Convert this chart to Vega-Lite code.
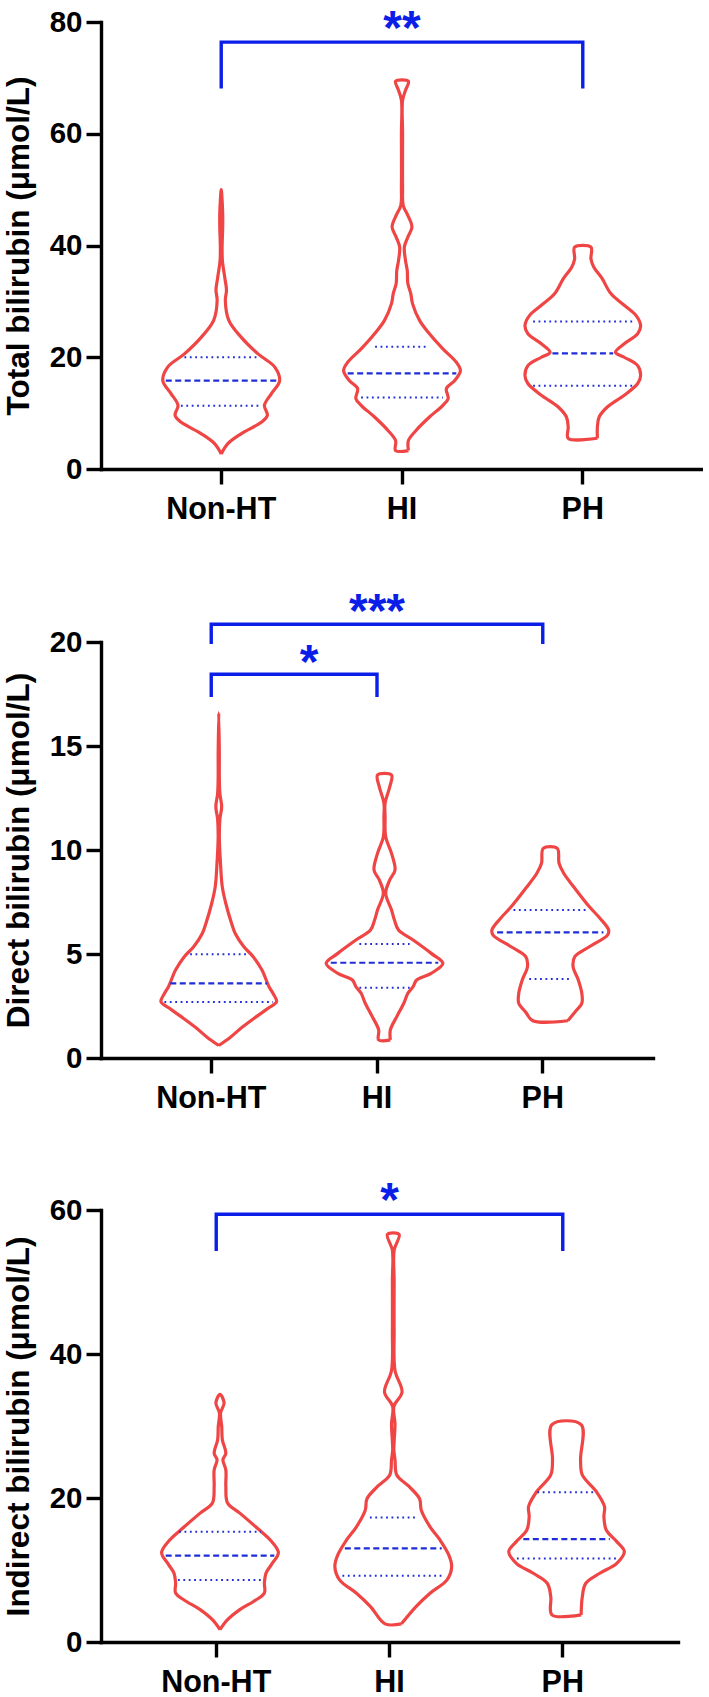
{
  "$schema": "https://vega.github.io/schema/vega-lite/v6.json",
  "background": "white",
  "padding": {"left": 3, "top": 5, "right": 0, "bottom": 0},
  "config": {
    "view": {"stroke": null},
    "font": "Liberation Sans",
    "axis": {
      "grid": false,
      "domainColor": "black", "domainWidth": 3.4, "domainCap": "square",
      "tickColor": "black", "tickWidth": 3.4, "tickSize": 15,
      "labelFont": "Liberation Sans", "labelFontWeight": "bold", "labelColor": "black",
      "titleFont": "Liberation Sans", "titleFontWeight": "bold", "titleColor": "black"
    },
    "axisY": {"labelFontSize": 29.5, "labelPadding": 4, "titleFontSize": 31.5, "titlePadding": 14},
    "axisX": {"labelFontSize": 30.5, "labelPadding": 10, "labelAngle": 0}
  },
  "datasets": {
    "v1": [
      {"g":"Non-HT","v":2.7,"w":0},{"g":"Non-HT","v":4.5,"w":0.11},{"g":"Non-HT","v":6.3,"w":0.34},{"g":"Non-HT","v":8.4,"w":0.69},{"g":"Non-HT","v":9.6,"w":0.79},{"g":"Non-HT","v":11.4,"w":0.74},{"g":"Non-HT","v":13.5,"w":0.86},{"g":"Non-HT","v":15.8,"w":1},{"g":"Non-HT","v":18.2,"w":0.92},{"g":"Non-HT","v":20.6,"w":0.63},{"g":"Non-HT","v":23.6,"w":0.34},{"g":"Non-HT","v":26.6,"w":0.13},{"g":"Non-HT","v":30.2,"w":0.07},{"g":"Non-HT","v":32,"w":0.09},{"g":"Non-HT","v":34.3,"w":0.06},{"g":"Non-HT","v":37.3,"w":0.02},{"g":"Non-HT","v":39.7,"w":0.015},{"g":"Non-HT","v":43.3,"w":0.025},{"g":"Non-HT","v":45.7,"w":0.025},{"g":"Non-HT","v":48.1,"w":0.015},{"g":"Non-HT","v":50,"w":0},
      {"g":"Non-HT","v":48.1,"w":-0.015},{"g":"Non-HT","v":45.7,"w":-0.025},{"g":"Non-HT","v":43.3,"w":-0.025},{"g":"Non-HT","v":39.7,"w":-0.015},{"g":"Non-HT","v":37.3,"w":-0.02},{"g":"Non-HT","v":34.3,"w":-0.06},{"g":"Non-HT","v":32,"w":-0.09},{"g":"Non-HT","v":30.2,"w":-0.07},{"g":"Non-HT","v":26.6,"w":-0.13},{"g":"Non-HT","v":23.6,"w":-0.34},{"g":"Non-HT","v":20.6,"w":-0.63},{"g":"Non-HT","v":18.2,"w":-0.92},{"g":"Non-HT","v":15.8,"w":-1},{"g":"Non-HT","v":13.5,"w":-0.86},{"g":"Non-HT","v":11.4,"w":-0.74},{"g":"Non-HT","v":9.6,"w":-0.79},{"g":"Non-HT","v":8.4,"w":-0.69},{"g":"Non-HT","v":6.3,"w":-0.34},{"g":"Non-HT","v":4.5,"w":-0.11},{"g":"Non-HT","v":2.7,"w":0},
      {"g":"HI","v":3.3,"w":0.11},{"g":"HI","v":5.1,"w":0.11},{"g":"HI","v":6.9,"w":0.24},{"g":"HI","v":9.3,"w":0.47},{"g":"HI","v":11.4,"w":0.7},{"g":"HI","v":12.6,"w":0.79},{"g":"HI","v":14.4,"w":0.76},{"g":"HI","v":15.8,"w":0.9},{"g":"HI","v":17.6,"w":1},{"g":"HI","v":19.1,"w":0.93},{"g":"HI","v":21.5,"w":0.7},{"g":"HI","v":24.2,"w":0.47},{"g":"HI","v":26.6,"w":0.3},{"g":"HI","v":29.6,"w":0.18},{"g":"HI","v":31.4,"w":0.15},{"g":"HI","v":33.2,"w":0.1},{"g":"HI","v":35.5,"w":0.09},{"g":"HI","v":37.3,"w":0.06},{"g":"HI","v":39.7,"w":0.04},{"g":"HI","v":41.5,"w":0.1},{"g":"HI","v":43.3,"w":0.17},{"g":"HI","v":45.4,"w":0.1},{"g":"HI","v":47.2,"w":0.02},{"g":"HI","v":50.5,"w":0.01},{"g":"HI","v":60,"w":0.01},{"g":"HI","v":66,"w":0.01},{"g":"HI","v":67.8,"w":0.06},{"g":"HI","v":69.4,"w":0.11},
      {"g":"HI","v":69.4,"w":-0.11},{"g":"HI","v":67.8,"w":-0.06},{"g":"HI","v":66,"w":-0.01},{"g":"HI","v":60,"w":-0.01},{"g":"HI","v":50.5,"w":-0.01},{"g":"HI","v":47.2,"w":-0.02},{"g":"HI","v":45.4,"w":-0.1},{"g":"HI","v":43.3,"w":-0.17},{"g":"HI","v":41.5,"w":-0.1},{"g":"HI","v":39.7,"w":-0.04},{"g":"HI","v":37.3,"w":-0.06},{"g":"HI","v":35.5,"w":-0.09},{"g":"HI","v":33.2,"w":-0.1},{"g":"HI","v":31.4,"w":-0.15},{"g":"HI","v":29.6,"w":-0.18},{"g":"HI","v":26.6,"w":-0.3},{"g":"HI","v":24.2,"w":-0.47},{"g":"HI","v":21.5,"w":-0.7},{"g":"HI","v":19.1,"w":-0.93},{"g":"HI","v":17.6,"w":-1},{"g":"HI","v":15.8,"w":-0.9},{"g":"HI","v":14.4,"w":-0.76},{"g":"HI","v":12.6,"w":-0.79},{"g":"HI","v":11.4,"w":-0.7},{"g":"HI","v":9.3,"w":-0.47},{"g":"HI","v":6.9,"w":-0.24},{"g":"HI","v":5.1,"w":-0.11},{"g":"HI","v":3.3,"w":-0.11},{"g":"HI","v":3.3,"w":0.11},
      {"g":"PH","v":5.5,"w":0.25},{"g":"PH","v":7.5,"w":0.25},{"g":"PH","v":9.3,"w":0.28},{"g":"PH","v":11.1,"w":0.42},{"g":"PH","v":13.2,"w":0.71},{"g":"PH","v":15.3,"w":0.94},{"g":"PH","v":16.7,"w":0.99},{"g":"PH","v":18.5,"w":0.94},{"g":"PH","v":20,"w":0.71},{"g":"PH","v":20.9,"w":0.56},{"g":"PH","v":22.4,"w":0.71},{"g":"PH","v":24.2,"w":0.94},{"g":"PH","v":25.7,"w":0.99},{"g":"PH","v":27.5,"w":0.91},{"g":"PH","v":29.3,"w":0.71},{"g":"PH","v":31.4,"w":0.48},{"g":"PH","v":34.1,"w":0.33},{"g":"PH","v":36.1,"w":0.19},{"g":"PH","v":37.6,"w":0.14},{"g":"PH","v":39.7,"w":0.14},
      {"g":"PH","v":39.7,"w":-0.14},{"g":"PH","v":37.6,"w":-0.14},{"g":"PH","v":36.1,"w":-0.19},{"g":"PH","v":34.1,"w":-0.33},{"g":"PH","v":31.4,"w":-0.48},{"g":"PH","v":29.3,"w":-0.71},{"g":"PH","v":27.5,"w":-0.91},{"g":"PH","v":25.7,"w":-0.99},{"g":"PH","v":24.2,"w":-0.94},{"g":"PH","v":22.4,"w":-0.71},{"g":"PH","v":20.9,"w":-0.56},{"g":"PH","v":20,"w":-0.71},{"g":"PH","v":18.5,"w":-0.94},{"g":"PH","v":16.7,"w":-0.99},{"g":"PH","v":15.3,"w":-0.94},{"g":"PH","v":13.2,"w":-0.71},{"g":"PH","v":11.1,"w":-0.42},{"g":"PH","v":9.3,"w":-0.28},{"g":"PH","v":7.5,"w":-0.25},{"g":"PH","v":5.5,"w":-0.25},{"g":"PH","v":5.5,"w":0.25}
    ],
    "v2": [
      {"g":"Non-HT","v":0.6,"w":0},{"g":"Non-HT","v":1,"w":0.2},{"g":"Non-HT","v":1.5,"w":0.41},{"g":"Non-HT","v":2,"w":0.65},{"g":"Non-HT","v":2.4,"w":0.85},{"g":"Non-HT","v":2.71,"w":0.99},{"g":"Non-HT","v":3.1,"w":0.93},{"g":"Non-HT","v":3.43,"w":0.86},{"g":"Non-HT","v":4.23,"w":0.74},{"g":"Non-HT","v":4.87,"w":0.59},{"g":"Non-HT","v":5.35,"w":0.43},{"g":"Non-HT","v":6,"w":0.28},{"g":"Non-HT","v":6.47,"w":0.22},{"g":"Non-HT","v":7.44,"w":0.12},{"g":"Non-HT","v":8.24,"w":0.06},{"g":"Non-HT","v":9.36,"w":0.03},{"g":"Non-HT","v":10.64,"w":0.01},{"g":"Non-HT","v":11.5,"w":0.02},{"g":"Non-HT","v":12.08,"w":0.05},{"g":"Non-HT","v":12.7,"w":0.02},{"g":"Non-HT","v":13.5,"w":0.01},{"g":"Non-HT","v":14.6,"w":0.01},{"g":"Non-HT","v":16.6,"w":0},
      {"g":"Non-HT","v":14.6,"w":-0.01},{"g":"Non-HT","v":13.5,"w":-0.01},{"g":"Non-HT","v":12.7,"w":-0.02},{"g":"Non-HT","v":12.08,"w":-0.05},{"g":"Non-HT","v":11.5,"w":-0.02},{"g":"Non-HT","v":10.64,"w":-0.01},{"g":"Non-HT","v":9.36,"w":-0.03},{"g":"Non-HT","v":8.24,"w":-0.06},{"g":"Non-HT","v":7.44,"w":-0.12},{"g":"Non-HT","v":6.47,"w":-0.22},{"g":"Non-HT","v":6,"w":-0.28},{"g":"Non-HT","v":5.35,"w":-0.43},{"g":"Non-HT","v":4.87,"w":-0.59},{"g":"Non-HT","v":4.23,"w":-0.74},{"g":"Non-HT","v":3.43,"w":-0.86},{"g":"Non-HT","v":3.1,"w":-0.93},{"g":"Non-HT","v":2.71,"w":-0.99},{"g":"Non-HT","v":2.4,"w":-0.85},{"g":"Non-HT","v":2,"w":-0.65},{"g":"Non-HT","v":1.5,"w":-0.41},{"g":"Non-HT","v":1,"w":-0.2},{"g":"Non-HT","v":0.6,"w":0},
      {"g":"HI","v":0.87,"w":0.1},{"g":"HI","v":1.35,"w":0.1},{"g":"HI","v":1.99,"w":0.21},{"g":"HI","v":2.63,"w":0.33},{"g":"HI","v":3.11,"w":0.4},{"g":"HI","v":3.43,"w":0.49},{"g":"HI","v":3.75,"w":0.55},{"g":"HI","v":4.07,"w":0.8},{"g":"HI","v":4.55,"w":1},{"g":"HI","v":5.03,"w":0.8},{"g":"HI","v":5.67,"w":0.49},{"g":"HI","v":6.15,"w":0.24},{"g":"HI","v":6.63,"w":0.17},{"g":"HI","v":7.12,"w":0.12},{"g":"HI","v":7.92,"w":0.02},{"g":"HI","v":8.56,"w":0.09},{"g":"HI","v":9.04,"w":0.18},{"g":"HI","v":9.84,"w":0.12},{"g":"HI","v":10.64,"w":0.02},{"g":"HI","v":11.6,"w":0.01},{"g":"HI","v":12.25,"w":0.01},{"g":"HI","v":13.04,"w":0.09},{"g":"HI","v":13.6,"w":0.12},
      {"g":"HI","v":13.6,"w":-0.12},{"g":"HI","v":13.04,"w":-0.09},{"g":"HI","v":12.25,"w":-0.01},{"g":"HI","v":11.6,"w":-0.01},{"g":"HI","v":10.64,"w":-0.02},{"g":"HI","v":9.84,"w":-0.12},{"g":"HI","v":9.04,"w":-0.18},{"g":"HI","v":8.56,"w":-0.09},{"g":"HI","v":7.92,"w":-0.02},{"g":"HI","v":7.12,"w":-0.12},{"g":"HI","v":6.63,"w":-0.17},{"g":"HI","v":6.15,"w":-0.24},{"g":"HI","v":5.67,"w":-0.49},{"g":"HI","v":5.03,"w":-0.8},{"g":"HI","v":4.55,"w":-1},{"g":"HI","v":4.07,"w":-0.8},{"g":"HI","v":3.75,"w":-0.55},{"g":"HI","v":3.43,"w":-0.49},{"g":"HI","v":3.11,"w":-0.4},{"g":"HI","v":2.63,"w":-0.33},{"g":"HI","v":1.99,"w":-0.21},{"g":"HI","v":1.35,"w":-0.1},{"g":"HI","v":0.87,"w":-0.1},{"g":"HI","v":0.87,"w":0.1},
      {"g":"PH","v":1.79,"w":0.3},{"g":"PH","v":2.2,"w":0.42},{"g":"PH","v":2.63,"w":0.54},{"g":"PH","v":3.11,"w":0.54},{"g":"PH","v":3.75,"w":0.48},{"g":"PH","v":4.39,"w":0.39},{"g":"PH","v":4.87,"w":0.42},{"g":"PH","v":5.35,"w":0.67},{"g":"PH","v":5.91,"w":0.98},{"g":"PH","v":6.15,"w":1},{"g":"PH","v":6.72,"w":0.85},{"g":"PH","v":7.27,"w":0.67},{"g":"PH","v":8.16,"w":0.42},{"g":"PH","v":8.88,"w":0.23},{"g":"PH","v":9.36,"w":0.15},{"g":"PH","v":10.08,"w":0.12},
      {"g":"PH","v":10.08,"w":-0.12},{"g":"PH","v":9.36,"w":-0.15},{"g":"PH","v":8.88,"w":-0.23},{"g":"PH","v":8.16,"w":-0.42},{"g":"PH","v":7.27,"w":-0.67},{"g":"PH","v":6.72,"w":-0.85},{"g":"PH","v":6.15,"w":-1},{"g":"PH","v":5.91,"w":-0.98},{"g":"PH","v":5.35,"w":-0.67},{"g":"PH","v":4.87,"w":-0.42},{"g":"PH","v":4.39,"w":-0.39},{"g":"PH","v":3.75,"w":-0.48},{"g":"PH","v":3.11,"w":-0.54},{"g":"PH","v":2.63,"w":-0.54},{"g":"PH","v":2.2,"w":-0.42},{"g":"PH","v":1.79,"w":-0.3},{"g":"PH","v":1.79,"w":0.3}
    ],
    "v3": [
      {"g":"Non-HT","v":1.73,"w":0},{"g":"Non-HT","v":3.1,"w":0.13},{"g":"Non-HT","v":4.5,"w":0.34},{"g":"Non-HT","v":5.66,"w":0.58},{"g":"Non-HT","v":6.8,"w":0.76},{"g":"Non-HT","v":8.2,"w":0.76},{"g":"Non-HT","v":9.6,"w":0.79},{"g":"Non-HT","v":10.75,"w":0.88},{"g":"Non-HT","v":12.4,"w":1},{"g":"Non-HT","v":14,"w":0.88},{"g":"Non-HT","v":15.8,"w":0.64},{"g":"Non-HT","v":17.9,"w":0.34},{"g":"Non-HT","v":19.3,"w":0.13},{"g":"Non-HT","v":21.6,"w":0.1},{"g":"Non-HT","v":23.9,"w":0.1},{"g":"Non-HT","v":25.3,"w":0.05},{"g":"Non-HT","v":26.2,"w":0.1},{"g":"Non-HT","v":28.1,"w":0.04},{"g":"Non-HT","v":29.9,"w":0.03},{"g":"Non-HT","v":31.8,"w":0.01},{"g":"Non-HT","v":33.2,"w":0.07},{"g":"Non-HT","v":34.4,"w":0},
      {"g":"Non-HT","v":33.2,"w":-0.07},{"g":"Non-HT","v":31.8,"w":-0.01},{"g":"Non-HT","v":29.9,"w":-0.03},{"g":"Non-HT","v":28.1,"w":-0.04},{"g":"Non-HT","v":26.2,"w":-0.1},{"g":"Non-HT","v":25.3,"w":-0.05},{"g":"Non-HT","v":23.9,"w":-0.1},{"g":"Non-HT","v":21.6,"w":-0.1},{"g":"Non-HT","v":19.3,"w":-0.13},{"g":"Non-HT","v":17.9,"w":-0.34},{"g":"Non-HT","v":15.8,"w":-0.64},{"g":"Non-HT","v":14,"w":-0.88},{"g":"Non-HT","v":12.4,"w":-1},{"g":"Non-HT","v":10.75,"w":-0.88},{"g":"Non-HT","v":9.6,"w":-0.79},{"g":"Non-HT","v":8.2,"w":-0.76},{"g":"Non-HT","v":6.8,"w":-0.76},{"g":"Non-HT","v":5.66,"w":-0.58},{"g":"Non-HT","v":4.5,"w":-0.34},{"g":"Non-HT","v":3.1,"w":-0.13},{"g":"Non-HT","v":1.73,"w":0},
      {"g":"HI","v":2.52,"w":0.14},{"g":"HI","v":4.92,"w":0.39},{"g":"HI","v":6.77,"w":0.63},{"g":"HI","v":8.63,"w":0.92},{"g":"HI","v":10.47,"w":1},{"g":"HI","v":12.09,"w":0.95},{"g":"HI","v":14.17,"w":0.8},{"g":"HI","v":16,"w":0.63},{"g":"HI","v":18.3,"w":0.48},{"g":"HI","v":19.9,"w":0.45},{"g":"HI","v":21.6,"w":0.27},{"g":"HI","v":23.2,"w":0.06},{"g":"HI","v":25.3,"w":0.03},{"g":"HI","v":26.7,"w":0.01},{"g":"HI","v":28.5,"w":0.02},{"g":"HI","v":30.3,"w":0.03},{"g":"HI","v":32.7,"w":0.01},{"g":"HI","v":34.7,"w":0.15},{"g":"HI","v":37.7,"w":0.03},{"g":"HI","v":43.3,"w":0.015},{"g":"HI","v":50.2,"w":0.015},{"g":"HI","v":54.4,"w":0.015},{"g":"HI","v":56.6,"w":0.1},
      {"g":"HI","v":56.6,"w":-0.1},{"g":"HI","v":54.4,"w":-0.015},{"g":"HI","v":50.2,"w":-0.015},{"g":"HI","v":43.3,"w":-0.015},{"g":"HI","v":37.7,"w":-0.03},{"g":"HI","v":34.7,"w":-0.15},{"g":"HI","v":32.7,"w":-0.01},{"g":"HI","v":30.3,"w":-0.03},{"g":"HI","v":28.5,"w":-0.02},{"g":"HI","v":26.7,"w":-0.01},{"g":"HI","v":25.3,"w":-0.03},{"g":"HI","v":23.2,"w":-0.06},{"g":"HI","v":21.6,"w":-0.27},{"g":"HI","v":19.9,"w":-0.45},{"g":"HI","v":18.3,"w":-0.48},{"g":"HI","v":16,"w":-0.63},{"g":"HI","v":14.17,"w":-0.8},{"g":"HI","v":12.09,"w":-0.95},{"g":"HI","v":10.47,"w":-1},{"g":"HI","v":8.63,"w":-0.92},{"g":"HI","v":6.77,"w":-0.63},{"g":"HI","v":4.92,"w":-0.39},{"g":"HI","v":2.52,"w":-0.14},{"g":"HI","v":2.52,"w":0.14},
      {"g":"PH","v":3.77,"w":0.25},{"g":"PH","v":6.3,"w":0.27},{"g":"PH","v":8.16,"w":0.33},{"g":"PH","v":9.55,"w":0.57},{"g":"PH","v":10.93,"w":0.86},{"g":"PH","v":12.55,"w":0.99},{"g":"PH","v":13.94,"w":0.86},{"g":"PH","v":15.56,"w":0.68},{"g":"PH","v":17.4,"w":0.64},{"g":"PH","v":18.8,"w":0.65},{"g":"PH","v":20.9,"w":0.51},{"g":"PH","v":23.2,"w":0.27},{"g":"PH","v":25.3,"w":0.24},{"g":"PH","v":30.2,"w":0.25},
      {"g":"PH","v":30.2,"w":-0.25},{"g":"PH","v":25.3,"w":-0.24},{"g":"PH","v":23.2,"w":-0.27},{"g":"PH","v":20.9,"w":-0.51},{"g":"PH","v":18.8,"w":-0.65},{"g":"PH","v":17.4,"w":-0.64},{"g":"PH","v":15.56,"w":-0.68},{"g":"PH","v":13.94,"w":-0.86},{"g":"PH","v":12.55,"w":-0.99},{"g":"PH","v":10.93,"w":-0.86},{"g":"PH","v":9.55,"w":-0.57},{"g":"PH","v":8.16,"w":-0.33},{"g":"PH","v":6.3,"w":-0.27},{"g":"PH","v":3.77,"w":-0.25},{"g":"PH","v":3.77,"w":0.25}
    ],
    "s1": [
      {"id":"a","k":"m","g":"Non-HT","v":15.8,"w":-0.95},{"id":"a","k":"m","g":"Non-HT","v":15.8,"w":0.95},
      {"id":"b","k":"q","g":"Non-HT","v":20,"w":-0.63},{"id":"b","k":"q","g":"Non-HT","v":20,"w":0.63},
      {"id":"c","k":"q","g":"Non-HT","v":11.3,"w":-0.69},{"id":"c","k":"q","g":"Non-HT","v":11.3,"w":0.69},
      {"id":"d","k":"m","g":"HI","v":17.1,"w":-0.93},{"id":"d","k":"m","g":"HI","v":17.1,"w":0.93},
      {"id":"e","k":"q","g":"HI","v":21.9,"w":-0.46},{"id":"e","k":"q","g":"HI","v":21.9,"w":0.46},
      {"id":"f","k":"q","g":"HI","v":12.8,"w":-0.7},{"id":"f","k":"q","g":"HI","v":12.8,"w":0.7},
      {"id":"g","k":"m","g":"PH","v":20.7,"w":-0.52},{"id":"g","k":"m","g":"PH","v":20.7,"w":0.52},
      {"id":"h","k":"q","g":"PH","v":26.4,"w":-0.85},{"id":"h","k":"q","g":"PH","v":26.4,"w":0.85},
      {"id":"i","k":"q","g":"PH","v":14.9,"w":-0.85},{"id":"i","k":"q","g":"PH","v":14.9,"w":0.85}
    ],
    "s2": [
      {"id":"a","k":"m","g":"Non-HT","v":3.59,"w":-0.83},{"id":"a","k":"m","g":"Non-HT","v":3.59,"w":0.83},
      {"id":"b","k":"q","g":"Non-HT","v":4.99,"w":-0.49},{"id":"b","k":"q","g":"Non-HT","v":4.99,"w":0.49},
      {"id":"c","k":"q","g":"Non-HT","v":2.69,"w":-0.93},{"id":"c","k":"q","g":"Non-HT","v":2.69,"w":0.93},
      {"id":"d","k":"m","g":"HI","v":4.58,"w":-0.92},{"id":"d","k":"m","g":"HI","v":4.58,"w":0.92},
      {"id":"e","k":"q","g":"HI","v":5.48,"w":-0.43},{"id":"e","k":"q","g":"HI","v":5.48,"w":0.43},
      {"id":"f","k":"q","g":"HI","v":3.38,"w":-0.43},{"id":"f","k":"q","g":"HI","v":3.38,"w":0.43},
      {"id":"g","k":"m","g":"PH","v":6.04,"w":-0.91},{"id":"g","k":"m","g":"PH","v":6.04,"w":0.91},
      {"id":"h","k":"q","g":"PH","v":7.12,"w":-0.63},{"id":"h","k":"q","g":"PH","v":7.12,"w":0.63},
      {"id":"i","k":"q","g":"PH","v":3.8,"w":-0.36},{"id":"i","k":"q","g":"PH","v":3.8,"w":0.36}
    ],
    "s3": [
      {"id":"a","k":"m","g":"Non-HT","v":12,"w":-0.93},{"id":"a","k":"m","g":"Non-HT","v":12,"w":0.93},
      {"id":"b","k":"q","g":"Non-HT","v":15.3,"w":-0.7},{"id":"b","k":"q","g":"Non-HT","v":15.3,"w":0.7},
      {"id":"c","k":"q","g":"Non-HT","v":8.6,"w":-0.72},{"id":"c","k":"q","g":"Non-HT","v":8.6,"w":0.72},
      {"id":"d","k":"m","g":"HI","v":13,"w":-0.83},{"id":"d","k":"m","g":"HI","v":13,"w":0.83},
      {"id":"e","k":"q","g":"HI","v":17.3,"w":-0.4},{"id":"e","k":"q","g":"HI","v":17.3,"w":0.4},
      {"id":"f","k":"q","g":"HI","v":9.2,"w":-0.87},{"id":"f","k":"q","g":"HI","v":9.2,"w":0.87},
      {"id":"g","k":"m","g":"PH","v":14.3,"w":-0.74},{"id":"g","k":"m","g":"PH","v":14.3,"w":0.74},
      {"id":"h","k":"q","g":"PH","v":20.8,"w":-0.5},{"id":"h","k":"q","g":"PH","v":20.8,"w":0.5},
      {"id":"i","k":"q","g":"PH","v":11.6,"w":-0.85},{"id":"i","k":"q","g":"PH","v":11.6,"w":0.85}
    ],
    "b1": [
      {"id":"a","g":"Non-HT","v":68.1},{"id":"a","g":"Non-HT","v":76.4},{"id":"a","g":"PH","v":76.4},{"id":"a","g":"PH","v":68.1}
    ],
    "b2": [
      {"id":"a","g":"Non-HT","v":19.9},{"id":"a","g":"Non-HT","v":20.85},{"id":"a","g":"PH","v":20.85},{"id":"a","g":"PH","v":19.9},
      {"id":"b","g":"Non-HT","v":17.36},{"id":"b","g":"Non-HT","v":18.45},{"id":"b","g":"HI","v":18.45},{"id":"b","g":"HI","v":17.36}
    ],
    "b3": [
      {"id":"a","g":"Non-HT","v":54.3},{"id":"a","g":"Non-HT","v":59.4},{"id":"a","g":"PH","v":59.4},{"id":"a","g":"PH","v":54.3}
    ]
  },
  "bounds": "flush",
  "spacing": 173,
  "vconcat": [
    {
      "width": 602,
      "height": 447,
      "encoding": {
        "x": {"field": "g", "type": "nominal", "scale": {"type": "band", "domain": ["Non-HT", "HI", "PH"], "paddingInner": 0, "paddingOuter": 0.165}, "axis": {"title": null}},
        "y": {"field": "v", "type": "quantitative", "scale": {"domain": [0, 80], "nice": false}, "axis": {"values": [0, 20, 40, 60, 80], "title": "Total bilirubin (μmol/L)"}}
      },
      "layer": [
        {"data": {"name": "v1"}, "mark": {"type": "line", "interpolate": "catmull-rom", "color": "#ef4545", "strokeWidth": 3.2, "strokeJoin": "round"},
         "encoding": {"xOffset": {"field": "w", "type": "quantitative", "scale": {"domain": [-1, 1], "range": [32, 148.8]}}, "detail": {"field": "g"}, "order": {"value": null}}},
        {"data": {"name": "s1"}, "transform": [{"filter": "datum.k == 'm'"}], "mark": {"type": "line", "color": "#1f2ed8", "strokeWidth": 2.2, "strokeDash": [6, 3.5]},
         "encoding": {"xOffset": {"field": "w", "type": "quantitative"}, "detail": {"field": "id"}, "order": {"value": null}}},
        {"data": {"name": "s1"}, "transform": [{"filter": "datum.k == 'q'"}], "mark": {"type": "line", "color": "#1f2ed8", "strokeWidth": 2, "strokeDash": [1.8, 3.6]},
         "encoding": {"xOffset": {"field": "w", "type": "quantitative"}, "detail": {"field": "id"}, "order": {"value": null}}},
        {"data": {"name": "b1"}, "mark": {"type": "line", "color": "#0a1ee8", "strokeWidth": 3.4, "strokeJoin": "miter"},
         "encoding": {"detail": {"field": "id"}, "order": {"value": null}}},
        {"data": {"values": [{"g": "HI", "v": 76.1, "t": "**"}]}, "mark": {"type": "text", "color": "#0a1ee8", "fontSize": 48, "fontWeight": "bold", "baseline": "alphabetic"},
         "encoding": {"text": {"field": "t"}}}
      ]
    },
    {
      "bounds": "flush",
      "spacing": 152,
      "vconcat": [
        {
          "width": 552,
          "height": 416,
          "encoding": {
            "x": {"field": "g", "type": "nominal", "scale": {"type": "band", "domain": ["Non-HT", "HI", "PH"], "paddingInner": 0, "paddingOuter": 0.165}, "axis": {"title": null}},
            "y": {"field": "v", "type": "quantitative", "scale": {"domain": [0, 20], "nice": false}, "axis": {"values": [0, 5, 10, 15, 20], "title": "Direct bilirubin (μmol/L)"}}
          },
          "layer": [
            {"data": {"name": "v2"}, "mark": {"type": "line", "interpolate": "catmull-rom", "color": "#ef4545", "strokeWidth": 3.2, "strokeJoin": "round"},
             "encoding": {"xOffset": {"field": "w", "type": "quantitative", "scale": {"domain": [-1, 1], "range": [29.4, 136.4]}}, "detail": {"field": "g"}, "order": {"value": null}}},
            {"data": {"name": "s2"}, "transform": [{"filter": "datum.k == 'm'"}], "mark": {"type": "line", "color": "#1f2ed8", "strokeWidth": 2.2, "strokeDash": [6, 3.5]},
             "encoding": {"xOffset": {"field": "w", "type": "quantitative"}, "detail": {"field": "id"}, "order": {"value": null}}},
            {"data": {"name": "s2"}, "transform": [{"filter": "datum.k == 'q'"}], "mark": {"type": "line", "color": "#1f2ed8", "strokeWidth": 2, "strokeDash": [1.8, 3.6]},
             "encoding": {"xOffset": {"field": "w", "type": "quantitative"}, "detail": {"field": "id"}, "order": {"value": null}}},
            {"data": {"name": "b2"}, "mark": {"type": "line", "color": "#0a1ee8", "strokeWidth": 3.4, "strokeJoin": "miter"},
             "encoding": {"detail": {"field": "id"}, "order": {"value": null}}},
            {"data": {"values": [{"g": "HI", "v": 20.7, "t": "***"}]}, "mark": {"type": "text", "color": "#0a1ee8", "fontSize": 48, "fontWeight": "bold", "baseline": "alphabetic"},
             "encoding": {"text": {"field": "t"}}},
            {"data": {"values": [{"g": "Non-HT", "v": 18.25, "t": "*"}]}, "mark": {"type": "text", "color": "#0a1ee8", "fontSize": 48, "fontWeight": "bold", "baseline": "alphabetic"},
             "encoding": {"text": {"field": "t"}, "xOffset": {"datum": 1.548}}}
          ]
        },
        {
          "width": 577,
          "height": 432,
          "encoding": {
            "x": {"field": "g", "type": "nominal", "scale": {"type": "band", "domain": ["Non-HT", "HI", "PH"], "paddingInner": 0, "paddingOuter": 0.165}, "axis": {"title": null}},
            "y": {"field": "v", "type": "quantitative", "scale": {"domain": [0, 60], "nice": false}, "axis": {"values": [0, 20, 40, 60], "title": "Indirect bilirubin (μmol/L)"}}
          },
          "layer": [
            {"data": {"name": "v3"}, "mark": {"type": "line", "interpolate": "catmull-rom", "color": "#ef4545", "strokeWidth": 3.2, "strokeJoin": "round"},
             "encoding": {"xOffset": {"field": "w", "type": "quantitative", "scale": {"domain": [-1, 1], "range": [30.6, 142.6]}}, "detail": {"field": "g"}, "order": {"value": null}}},
            {"data": {"name": "s3"}, "transform": [{"filter": "datum.k == 'm'"}], "mark": {"type": "line", "color": "#1f2ed8", "strokeWidth": 2.2, "strokeDash": [6, 3.5]},
             "encoding": {"xOffset": {"field": "w", "type": "quantitative"}, "detail": {"field": "id"}, "order": {"value": null}}},
            {"data": {"name": "s3"}, "transform": [{"filter": "datum.k == 'q'"}], "mark": {"type": "line", "color": "#1f2ed8", "strokeWidth": 2, "strokeDash": [1.8, 3.6]},
             "encoding": {"xOffset": {"field": "w", "type": "quantitative"}, "detail": {"field": "id"}, "order": {"value": null}}},
            {"data": {"name": "b3"}, "mark": {"type": "line", "color": "#0a1ee8", "strokeWidth": 3.4, "strokeJoin": "miter"},
             "encoding": {"detail": {"field": "id"}, "order": {"value": null}}},
            {"data": {"values": [{"g": "HI", "v": 59.1, "t": "*"}]}, "mark": {"type": "text", "color": "#0a1ee8", "fontSize": 48, "fontWeight": "bold", "baseline": "alphabetic"},
             "encoding": {"text": {"field": "t"}}}
          ]
        }
      ]
    }
  ]
}
